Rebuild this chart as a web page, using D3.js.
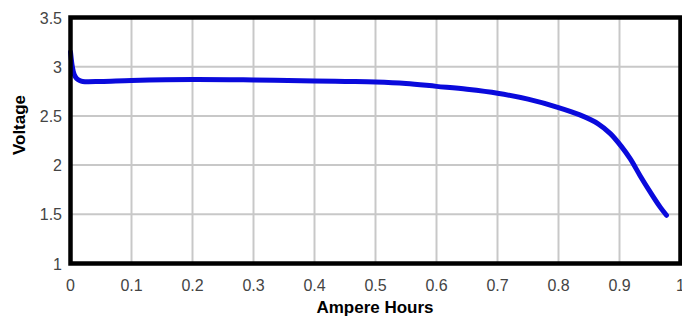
<!DOCTYPE html>
<html lang="en">
<head>
<style>
  body { margin: 0; background: #fff; }
  text { font-family: Arial, "Liberation Sans", sans-serif; }
</style>
</head>
<body>
	<script src="https://d3js.org/d3.v7.min.js"></script>
	<script>
		width = 682;
		height = 318;

		// discharge curve
		ampHours = [0, 0.003, 0.006, 0.01, 0.015, 0.02, 0.05, 0.1, 0.2, 0.3, 0.4, 0.45, 0.5, 0.55, 0.6,
		            0.65, 0.7, 0.75, 0.8, 0.835, 0.865, 0.885, 0.903, 0.918, 0.934, 0.951, 0.967, 0.977];
		voltage = [3.15, 3.0, 2.92, 2.88, 2.86, 2.85, 2.85, 2.86, 2.87, 2.865, 2.855, 2.85, 2.845, 2.83, 2.80,
		           2.77, 2.73, 2.67, 2.585, 2.51, 2.42, 2.32, 2.19, 2.06, 1.89, 1.72, 1.57, 1.49];
		xTicks = [0, 0.1, 0.2, 0.3, 0.4, 0.5, 0.6, 0.7, 0.8, 0.9, 1];
		yTicks = [1, 1.5, 2, 2.5, 3, 3.5];

		const plotLeft = 70.5, plotRight = 680.5, plotTop = 17.5, plotBottom = 263.5;

		const x = d3.scaleLinear().domain([0, 1]).range([plotLeft, plotRight]);
		const y = d3.scaleLinear().domain([1, 3.5]).range([plotBottom, plotTop]);

		const svg = d3.select("body")
		  .append("svg")
		  .attr("width", width)
		  .attr("height", height);

		// grid
		svg.append("g")
		  .selectAll("line")
		  .data(xTicks.slice(1, -1))
		  .join("line")
		    .attr("x1", d => x(d)).attr("x2", d => x(d))
		    .attr("y1", plotTop).attr("y2", plotBottom)
		    .attr("stroke", "#c8c8c8")
		    .attr("stroke-width", 2);

		svg.append("g")
		  .selectAll("line")
		  .data(yTicks.slice(1, -1))
		  .join("line")
		    .attr("x1", plotLeft).attr("x2", plotRight)
		    .attr("y1", d => y(d)).attr("y2", d => y(d))
		    .attr("stroke", "#c8c8c8")
		    .attr("stroke-width", 2);

		// tick labels
		svg.append("g")
		  .selectAll("text")
		  .data(xTicks)
		  .join("text")
		    .attr("x", d => x(d))
		    .attr("y", 291)
		    .attr("text-anchor", "middle")
		    .attr("font-size", 16)
		    .attr("fill", "#444")
		    .text(d => d);

		svg.append("g")
		  .selectAll("text")
		  .data(yTicks)
		  .join("text")
		    .attr("x", 62)
		    .attr("y", d => y(d) + 6)
		    .attr("text-anchor", "end")
		    .attr("font-size", 16)
		    .attr("fill", "#444")
		    .text(d => d);

		// curve
		const line = d3.line()
		  .x(d => x(d[0]))
		  .y(d => y(d[1]))
		  .curve(d3.curveCatmullRom.alpha(0.5));

		svg.append("path")
		  .datum(ampHours.map((a, i) => [a, voltage[i]]))
		  .attr("d", line)
		  .attr("fill", "none")
		  .attr("stroke", "#0a0adc")
		  .attr("stroke-width", 5)
		  .attr("stroke-linecap", "round")
		  .attr("stroke-linejoin", "round");

		// frame
		svg.append("rect")
		  .attr("x", plotLeft).attr("y", plotTop)
		  .attr("width", plotRight - plotLeft).attr("height", plotBottom - plotTop)
		  .attr("fill", "none")
		  .attr("stroke", "#000")
		  .attr("stroke-width", 4.5);

		// axis titles
		svg.append("text")
		  .attr("x", 375).attr("y", 313)
		  .attr("text-anchor", "middle")
		  .attr("font-size", 17)
		  .attr("font-weight", "bold")
		  .text("Ampere Hours");

		svg.append("text")
		  .attr("transform", "translate(25,125) rotate(-90)")
		  .attr("text-anchor", "middle")
		  .attr("font-size", 17)
		  .attr("font-weight", "bold")
		  .text("Voltage");
	</script>
</body>
</html>
